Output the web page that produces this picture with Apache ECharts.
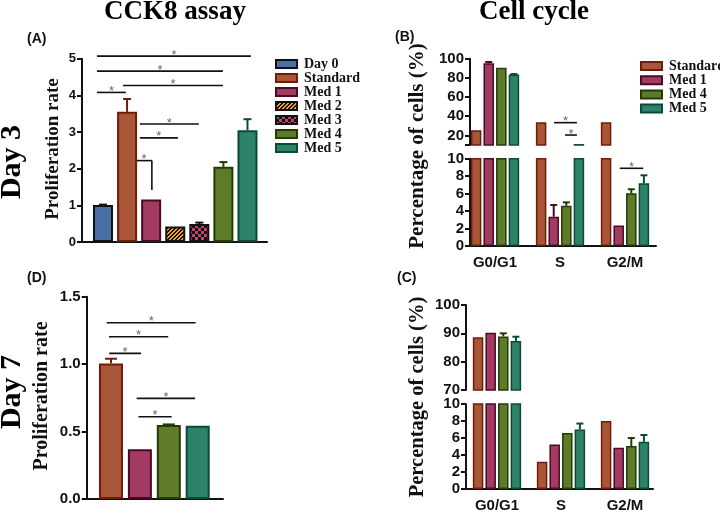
<!DOCTYPE html>
<html><head><meta charset="utf-8">
<script src="https://cdn.jsdelivr.net/npm/echarts@6/dist/echarts.min.js"></script>
<style>html,body{margin:0;padding:0;background:#fff}#c{width:720px;height:512px}</style>
</head><body><div id="c"></div>
<script>
// ---------- DATA ----------
// Panel A: CCK8 assay, Day 3
const aNames = ['Day 0', 'Standard', 'Med 1', 'Med 2', 'Med 3', 'Med 4', 'Med 5'];
const aValues = [1.01, 3.55, 1.16, 0.42, 0.49, 2.05, 3.05];
const aErrors = [0.01, 0.35, 0, 0, 0.04, 0.13, 0.30];
// significance bars A: [from x, to x, y, drop-to y]
const aSig = [[-0.25, 6.14, 5.07, null], [-0.25, 4.98, 4.66, null], [0.83, 4.98, 4.27, null],
              [-0.25, 0.95, 4.08, null], [1.53, 3.98, 3.22, null], [1.53, 3.11, 2.84, null],
              [1.41, 2.03, 2.22, 1.42]];
// Panel D: CCK8 assay, Day 7
const dNames = ['Standard', 'Med 1', 'Med 4', 'Med 5'];
const dValues = [1.005, 0.368, 0.548, 0.543];
const dErrors = [0.035, 0, 0.005, 0];
const dSig = [[-0.15, 2.93, 1.307, null], [-0.07, 1.98, 1.203, null], [-0.06, 1.04, 1.08, null],
              [0.89, 2.91, 0.746, null], [0.95, 2.10, 0.61, null]];
// Panel B: Cell cycle, Day 3
const phases = ['G0/G1', 'S', 'G2/M'];
const cycleNames = ['Standard', 'Med 1', 'Med 4', 'Med 5'];
const bStandard = [25.5, 33.7, 33.7];
const bMed1 = [95.2, 3.35, 2.35];
const bMed4 = [90.5, 4.6, 6.05];
const bMed5 = [83.5, 11.0, 7.2];
const bStandardErr = [0, 0, 0];
const bMed1Err = [1.4, 1.35, 0];
const bMed4Err = [0, 0.4, 0.45];
const bMed5Err = [0.5, 0, 0.9];
const bSigUpper = [[0.908, 1.26, 33.3, null], [1.077, 1.26, 20.4, null]];
const bSigLower = [[1.92, 2.28, 8.9, null]];
// Panel C: Cell cycle, Day 7
const cStandard = [88.6, 3.2, 8.0];
const cMed1 = [90.2, 5.25, 4.85];
const cMed4 = [88.9, 6.6, 5.05];
const cMed5 = [87.3, 7.0, 5.55];
const cStandardErr = [0, 0, 0];
const cMed1Err = [0, 0, 0];
const cMed4Err = [1.1, 0, 0.95];
const cMed5Err = [1.5, 0.7, 0.8];

// ---------- STYLES ----------
function makePattern(kind) {
  const n = kind === 'stripe' ? 8 : 6;
  const c = document.createElement('canvas'); c.width = n; c.height = n;
  const g = c.getContext('2d');
  g.fillStyle = '#111'; g.fillRect(0, 0, n, n);
  for (let y = 0; y < n; y++) for (let x = 0; x < n; x++) {
    let on;
    if (kind === 'stripe') { on = ((x + y) % 4) < 2; g.fillStyle = '#f5a030'; }
    else { on = (Math.floor(x / 3) + Math.floor(y / 3)) % 2 === 0; g.fillStyle = '#c2456e'; }
    if (on) g.fillRect(x, y, 1, 1);
  }
  return { image: c, repeat: 'repeat' };
}
const fillOf = {
  'Day 0': '#4a6fa5', 'Standard': '#a85538', 'Med 1': '#a33a62',
  'Med 2': makePattern('stripe'), 'Med 3': makePattern('check'),
  'Med 4': '#5e7b2a', 'Med 5': '#2e8269'
};
const edgeOf = {
  'Day 0': '#111', 'Standard': '#6e1e08', 'Med 1': '#4a0a25', 'Med 2': '#111',
  'Med 3': '#111', 'Med 4': '#263a08', 'Med 5': '#0c4a38'
};
const SANS = '"Liberation Sans", Arial, sans-serif';
const SERIF = '"Liberation Serif", "Times New Roman", serif';

// ---------- HELPERS ----------
function errSeries(xi, rows, cap) {
  return {
    type: 'custom', xAxisIndex: xi, yAxisIndex: xi, z: 5, silent: true,
    data: rows.map(r => [r.x, r.v, r.e]),
    renderItem(params, api) {
      const r = rows[params.dataIndex];
      if (!r.e) return null;
      const p = api.coord([r.x, r.v]), q = api.coord([r.x, r.v + r.e]);
      const x = p[0] + r.off;
      return { type: 'group', children: [
        { type: 'line', shape: { x1: x, y1: p[1], x2: x, y2: q[1] }, style: { stroke: r.color, lineWidth: 2 } },
        { type: 'line', shape: { x1: x - cap, y1: q[1], x2: x + cap, y2: q[1] }, style: { stroke: r.color, lineWidth: 2 } }
      ] };
    }
  };
}
function sigSeries(xi, rows) {
  return {
    type: 'custom', xAxisIndex: xi, yAxisIndex: xi, z: 6, silent: true,
    data: rows.map(r => [r[0], r[1], r[2]]),
    renderItem(params, api) {
      const r = rows[params.dataIndex];
      const p1 = api.coord([r[0], r[2]]), p2 = api.coord([r[1], r[2]]);
      const ch = [
        { type: 'line', shape: { x1: p1[0], y1: p1[1], x2: p2[0], y2: p2[1] }, style: { stroke: '#111', lineWidth: 1.6 } },
        { type: 'text', x: (p1[0] + p2[0]) / 2, y: p1[1] - 1, style: { text: '*', font: '13px ' + SANS, fill: '#666', align: 'center', verticalAlign: 'middle' } }
      ];
      if (r[3] != null) {
        const p3 = api.coord([r[1], r[3]]);
        ch.push({ type: 'line', shape: { x1: p2[0], y1: p2[1], x2: p2[0], y2: p3[1] }, style: { stroke: '#111', lineWidth: 1.6 } });
        ch[1].x = p1[0] + 7;
      }
      return { type: 'group', children: ch };
    }
  };
}
const axisLineStyle = { show: true, onZero: false, lineStyle: { color: '#111', width: 2 } };
function xAxis(grid, min, max, labels) {
  return {
    type: 'value', gridIndex: grid, min, max, splitLine: { show: false },
    axisLine: labels === 'hide' ? { show: false } : axisLineStyle,
    axisTick: { show: false },
    axisLabel: Array.isArray(labels) ? {
      show: true, customValues: labels.map((_, i) => i), formatter: v => labels[Math.round(v)],
      margin: 9, color: '#111', fontWeight: 'bold', fontSize: 15, fontFamily: SANS
    } : { show: false }
  };
}
function yAxis(grid, cfg, fontSize) {
  return Object.assign({
    type: 'value', gridIndex: grid, splitLine: { show: false },
    axisLine: axisLineStyle,
    axisTick: { show: true, inside: false, length: 5, lineStyle: { color: '#111', width: 2 } },
    axisLabel: { margin: 6, color: '#111', fontWeight: 'bold', fontSize, fontFamily: SANS }
  }, cfg);
}

// ---------- SERIES ----------
const series = [];
// A
aNames.forEach((n, i) => series.push({
  type: 'bar', name: n, xAxisIndex: 0, yAxisIndex: 0, data: [[i, aValues[i]]],
  barWidth: 20, barGap: '-100%',
  itemStyle: { color: fillOf[n], borderColor: edgeOf[n], borderWidth: 2 }
}));
series.push(errSeries(0, aNames.map((n, i) => ({ x: i, v: aValues[i], e: aErrors[i], off: 0, color: edgeOf[n] })), 4));
series.push(sigSeries(0, aSig));
// D
series.push({
  type: 'bar', name: 'D', xAxisIndex: 1, yAxisIndex: 1, barWidth: 24,
  data: dNames.map((n, i) => ({ value: [i, dValues[i]], itemStyle: { color: fillOf[n], borderColor: edgeOf[n], borderWidth: 2 } }))
});
series.push(errSeries(1, dNames.map((n, i) => ({ x: i, v: dValues[i], e: dErrors[i], off: 0, color: edgeOf[n] })), 6));
series.push(sigSeries(1, dSig));
// B & C
function cyclePanel(vals, errs, gUp, gLow) {
  const upRows = [], lowRows = [];
  cycleNames.forEach((n, k) => {
    [gUp, gLow].forEach(g => series.push({
      type: 'bar', name: n, xAxisIndex: g, yAxisIndex: g, clip: true,
      data: vals[k].map((v, i) => [i, v]), barWidth: 10.5, barGap: '20%',
      itemStyle: { color: fillOf[n], borderColor: edgeOf[n], borderWidth: 1.5 }
    }));
    vals[k].forEach((v, i) => {
      const row = { x: i, v, e: errs[k][i], off: (k - 1.5) * 12.6, color: edgeOf[n] };
      if (v >= 10.5) upRows.push(row); else lowRows.push(row);
    });
  });
  series.push(errSeries(gUp, upRows, 3.5));
  series.push(errSeries(gLow, lowRows, 3.5));
}
cyclePanel([bStandard, bMed1, bMed4, bMed5], [bStandardErr, bMed1Err, bMed4Err, bMed5Err], 2, 3);
series.push(sigSeries(2, bSigUpper));
series.push(sigSeries(3, bSigLower));
cyclePanel([cStandard, cMed1, cMed4, cMed5], [cStandardErr, cMed1Err, cMed4Err, cMed5Err], 4, 5);

// ---------- OPTION ----------
const legendText = { fontFamily: SERIF, fontWeight: 'bold', fontSize: 14, color: '#111', lineHeight: 14, padding: [0, 0, 0, 2] };
const option = {
  animation: false,
  backgroundColor: '#fff',
  grid: [
    { left: 82, top: 58.7, width: 185, height: 183.3, outerBoundsMode: 'none' },
    { left: 86.7, top: 296.7, width: 136.3, height: 202.3, outerBoundsMode: 'none' },
    { left: 470, top: 58.7, width: 186, height: 86.3, outerBoundsMode: 'none' },
    { left: 470, top: 158.7, width: 186, height: 87.3, outerBoundsMode: 'none' },
    { left: 466, top: 305, width: 187, height: 85, outerBoundsMode: 'none' },
    { left: 466, top: 404, width: 187, height: 85, outerBoundsMode: 'none' }
  ],
  xAxis: [
    xAxis(0, -0.871, 6.81, null),
    xAxis(1, -0.84, 3.875, null),
    xAxis(2, -0.385, 2.477, 'hide'),
    xAxis(3, -0.385, 2.477, phases),
    xAxis(4, -0.484, 2.4375, 'hide'),
    xAxis(5, -0.484, 2.4375, phases)
  ],
  yAxis: [
    yAxis(0, { min: 0, max: 5, interval: 1 }, 13),
    yAxis(1, { min: 0, max: 1.5, interval: 0.5,
      axisLabel: { margin: 6, color: '#111', fontWeight: 'bold', fontSize: 15, fontFamily: SANS, formatter: v => v.toFixed(1) } }, 15),
    yAxis(2, { min: 10, max: 100,
      axisTick: { show: true, length: 5, customValues: [10, 20, 40, 60, 80, 100], lineStyle: { color: '#111', width: 2 } },
      axisLabel: { margin: 6, color: '#111', fontWeight: 'bold', fontSize: 15, fontFamily: SANS, customValues: [20, 40, 60, 80, 100] } }, 15),
    yAxis(3, { min: 0, max: 10, interval: 2 }, 15),
    yAxis(4, { min: 70, max: 100, interval: 10 }, 15),
    yAxis(5, { min: 0, max: 10, interval: 2 }, 15)
  ],
  legend: [
    { orient: 'vertical', left: 270, top: 52, itemWidth: 21, itemHeight: 8, itemGap: 0,
      icon: 'rect', selectedMode: false, textStyle: legendText,
      data: aNames.map(n => ({ name: n, itemStyle: { color: fillOf[n], borderColor: edgeOf[n], borderWidth: 2 } })) },
    { orient: 'vertical', left: 635, top: 54, itemWidth: 21, itemHeight: 8, itemGap: 0.2,
      icon: 'rect', selectedMode: false, textStyle: legendText,
      data: cycleNames.map(n => ({ name: n, itemStyle: { color: fillOf[n], borderColor: edgeOf[n], borderWidth: 2 } })) }
  ],
  graphic: [
    { type: 'text', x: 175, y: 12, style: { text: 'CCK8 assay', font: 'bold 27px ' + SERIF, fill: '#000', align: 'center', verticalAlign: 'middle' } },
    { type: 'text', x: 534, y: 12, style: { text: 'Cell cycle', font: 'bold 27px ' + SERIF, fill: '#000', align: 'center', verticalAlign: 'middle' } },
    { type: 'text', x: 27, y: 39, style: { text: '(A)', font: 'bold 14px ' + SANS, fill: '#111', verticalAlign: 'middle' } },
    { type: 'text', x: 395, y: 37, style: { text: '(B)', font: 'bold 14px ' + SANS, fill: '#111', verticalAlign: 'middle' } },
    { type: 'text', x: 397, y: 278, style: { text: '(C)', font: 'bold 14px ' + SANS, fill: '#111', verticalAlign: 'middle' } },
    { type: 'text', x: 27, y: 278, style: { text: '(D)', font: 'bold 14px ' + SANS, fill: '#111', verticalAlign: 'middle' } },
    { type: 'text', x: 12, y: 162, rotation: Math.PI / 2, style: { text: 'Day 3', font: 'bold 30px ' + SERIF, fill: '#000', align: 'center', verticalAlign: 'middle' } },
    { type: 'text', x: 12, y: 392, rotation: Math.PI / 2, style: { text: 'Day 7', font: 'bold 30px ' + SERIF, fill: '#000', align: 'center', verticalAlign: 'middle' } },
    { type: 'text', x: 53, y: 149, rotation: Math.PI / 2, style: { text: 'Proliferation rate', font: 'bold 19px ' + SERIF, fill: '#111', align: 'center', verticalAlign: 'middle' } },
    { type: 'text', x: 42, y: 396, rotation: Math.PI / 2, style: { text: 'Proliferation rate', font: 'bold 20px ' + SERIF, fill: '#111', align: 'center', verticalAlign: 'middle' } },
    { type: 'text', x: 418, y: 146, rotation: Math.PI / 2, style: { text: 'Percentage of cells (%)', font: 'bold 21px ' + SERIF, fill: '#111', align: 'center', verticalAlign: 'middle' } },
    { type: 'text', x: 418, y: 397, rotation: Math.PI / 2, style: { text: 'Percentage of cells (%)', font: 'bold 20.5px ' + SERIF, fill: '#111', align: 'center', verticalAlign: 'middle' } }
  ],
  series
};
const chart = echarts.init(document.getElementById('c'), null, { renderer: 'canvas' });
chart.setOption(option);
</script>
</body></html>
